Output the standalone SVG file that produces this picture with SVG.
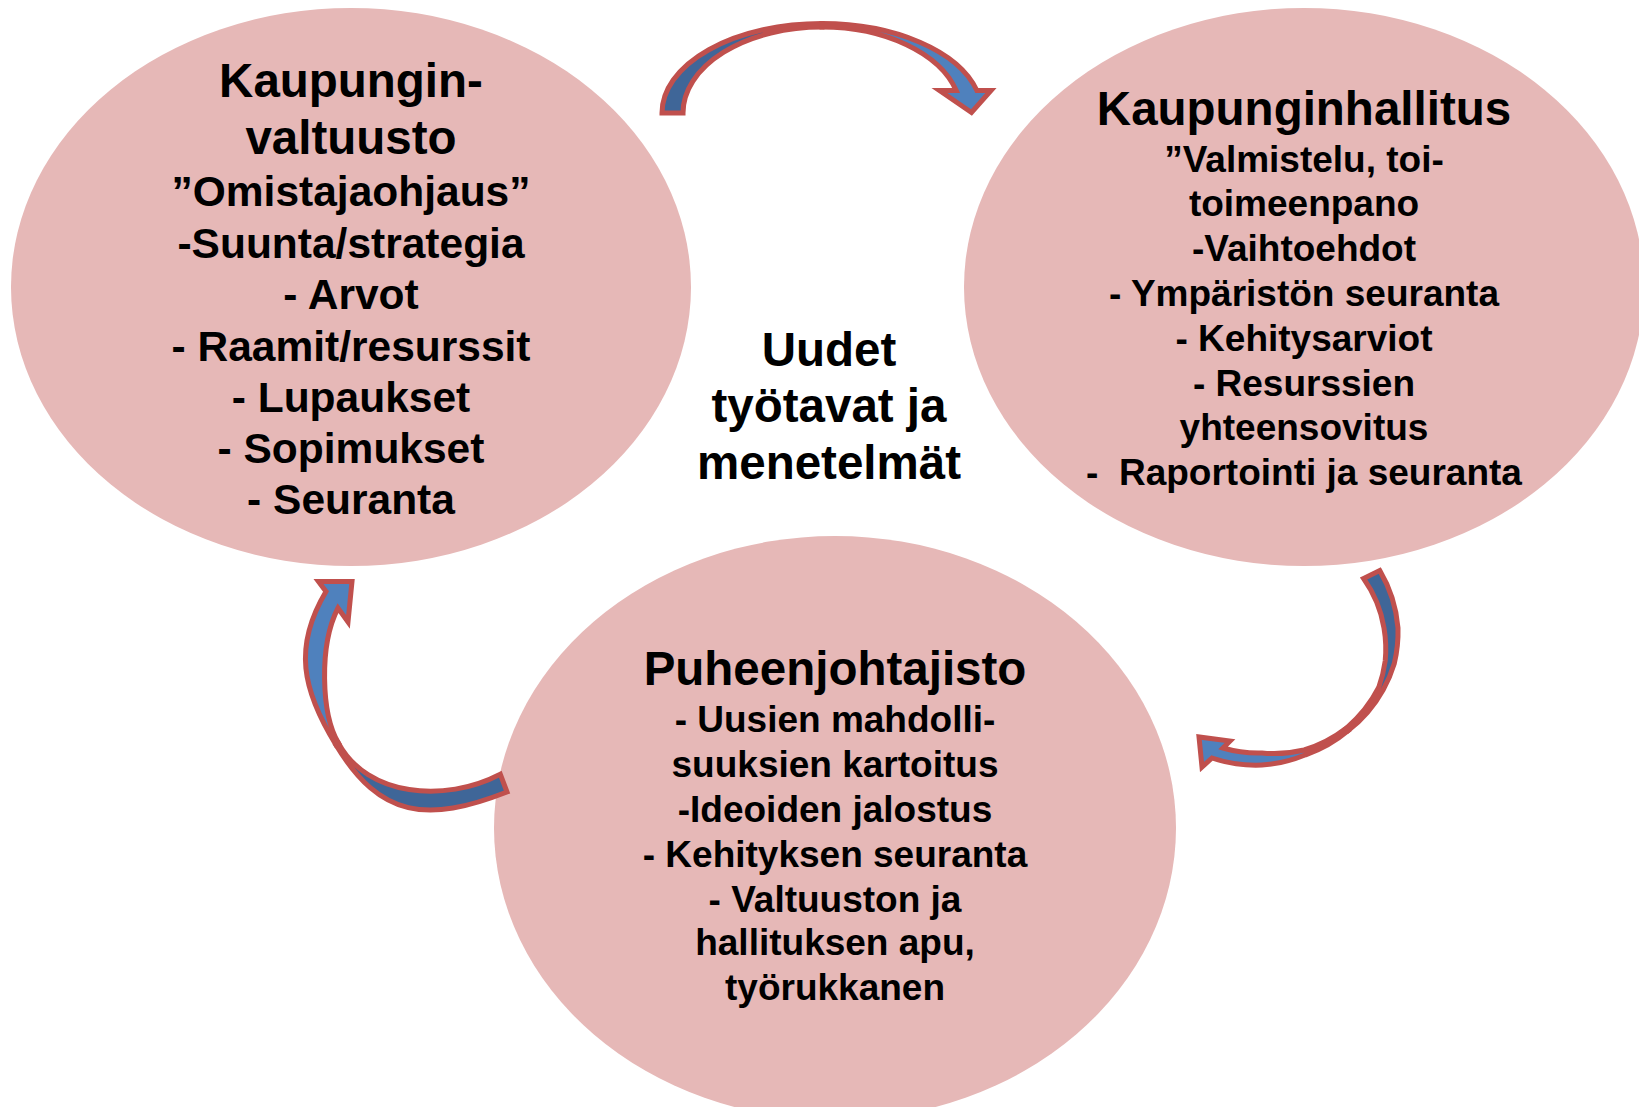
<svg xmlns="http://www.w3.org/2000/svg" width="1639" height="1107" viewBox="0 0 1639 1107">
  <style>
    .bubble { fill: #E6B8B7; stroke: none; }
    text { font-family: "Liberation Sans", Arial, sans-serif; font-weight: bold; fill: #000; text-anchor: middle; }
    .title { font-size: 47.5px; }
    .big { font-size: 42.5px; }
    .body { font-size: 37px; }
    .back { fill: #3F6698; stroke: #C0504D; stroke-width: 5; stroke-linejoin: miter; }
    .front { fill: #4F81BD; stroke: #C0504D; stroke-width: 5; stroke-linejoin: miter; }
  </style>
  <rect x="0" y="0" width="1639" height="1107" fill="#FFFFFF"/>

  <g id="node-valtuusto">
    <ellipse class="bubble" cx="351" cy="287" rx="340" ry="279"/>
    <text class="title" x="351" y="97">Kaupungin-</text>
    <text class="title" x="351" y="154">valtuusto</text>
    <text class="big" x="351" y="206">”Omistajaohjaus”</text>
    <text class="big" x="351" y="258">-Suunta/strategia</text>
    <text class="big" x="351" y="309">- Arvot</text>
    <text class="big" x="351" y="361">- Raamit/resurssit</text>
    <text class="big" x="351" y="412">- Lupaukset</text>
    <text class="big" x="351" y="463">- Sopimukset</text>
    <text class="big" x="351" y="514">- Seuranta</text>
  </g>

  <g id="node-hallitus">
    <ellipse class="bubble" cx="1304" cy="287" rx="340" ry="279"/>
    <text class="title" x="1304" y="125">Kaupunginhallitus</text>
    <text class="body" x="1304" y="172">”Valmistelu, toi-</text>
    <text class="body" x="1304" y="216">toimeenpano</text>
    <text class="body" x="1304" y="261">-Vaihtoehdot</text>
    <text class="body" x="1304" y="306">- Ympäristön seuranta</text>
    <text class="body" x="1304" y="351">- Kehitysarviot</text>
    <text class="body" x="1304" y="396">- Resurssien</text>
    <text class="body" x="1304" y="440">yhteensovitus</text>
    <text class="body" x="1304" y="485" xml:space="preserve">-  Raportointi ja seuranta</text>
  </g>

  <g id="node-puheenjohtajisto">
    <ellipse class="bubble" cx="835" cy="828" rx="341" ry="292"/>
    <text class="title" x="835" y="685">Puheenjohtajisto</text>
    <text class="body" x="835" y="732">- Uusien mahdolli-</text>
    <text class="body" x="835" y="777">suuksien kartoitus</text>
    <text class="body" x="835" y="822">-Ideoiden jalostus</text>
    <text class="body" x="835" y="867">- Kehityksen seuranta</text>
    <text class="body" x="835" y="912">- Valtuuston ja</text>
    <text class="body" x="835" y="955">hallituksen apu,</text>
    <text class="body" x="835" y="1000">työrukkanen</text>
  </g>

  <g id="label-center">
    <text class="title" x="829" y="366">Uudet</text>
    <text class="title" x="829" y="422">työtavat ja</text>
    <text class="title" x="829" y="479">menetelmät</text>
  </g>

  <g id="connectors">
    <g id="arrow-valtuusto-hallitus">
      <path class="back" d="M 662,113 A 160 89.5 0 0 1 822,23.5 L 822,27 A 139 86 0 0 0 683,113 Z"/>
      <path class="front" d="M 822,23.5 A 160 89.5 0 0 1 976.9,90.5 L 991,90.5 L 971.5,112.5 L 939.5,90.5 L 956.2,90.5 A 139 86 0 0 0 822,27 Z"/>
    </g>
    <g id="arrow-hallitus-puheenjohtajisto">
      <path class="back" d="M 1363.6,578.5 L 1379.8,570.6 A 133 133 0 0 1 1398,628 A 136 136 0 0 1 1394.3,663.5 A 136 136 0 0 1 1383.2,689.7 A 135 135 0 0 1 1348.2,730.6 L 1346.2,728.3 A 131 131 0 0 0 1378.7,687.5 A 129 129 0 0 0 1385.2,661 A 125 125 0 0 0 1384,628 A 118 118 0 0 0 1363.6,578.5 Z"/>
      <path class="front" d="M 1348.2,730.6 A 135 135 0 0 1 1305.7,754.8 A 135 135 0 0 1 1262,765 A 138 138 0 0 1 1212,758 L 1202,767 L 1199,737 L 1230,741 L 1223,748 A 125 125 0 0 0 1262,753 A 127 127 0 0 0 1304.1,750 A 130 130 0 0 0 1346.2,728.3 Z"/>
    </g>
    <g id="arrow-puheenjohtajisto-valtuusto">
      <path class="back" d="M 336,745 C 380.2,818.3 427.5,823.1 507,792 L 500.3,774.2 C 444.2,803.4 367.2,796.2 338.6,743.4 Z"/>
      <path class="front" d="M 326,591.5 L 318.5,581.5 L 352,581.5 L 348,622 L 338,608 C 319,645 321,714 338.6,743.4 L 336,745 C 302.2,689.8 292.9,646.9 326,591.5 Z"/>
    </g>
  </g>
</svg>
